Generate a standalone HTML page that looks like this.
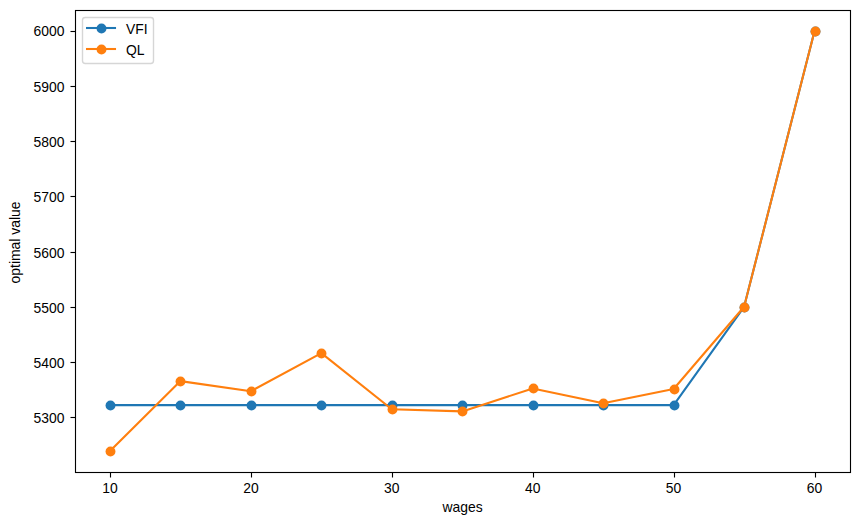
<!DOCTYPE html>
<html><head><meta charset="utf-8"><title>VFI vs QL optimal value by wages</title>
<style>
html,body{margin:0;padding:0;background:#fff;}
svg{display:block;}
</style></head><body>
<svg width="859" height="525" viewBox="0 0 859 525">
<rect x="0" y="0" width="859" height="525" fill="#fff"/>
<g>
<polyline points="110.01,405.10 180.46,405.10 250.92,405.10 321.37,405.10 391.83,405.10 462.28,405.10 532.73,405.10 603.19,405.10 673.64,405.10 744.10,306.77 814.55,31.00" fill="none" stroke="#1f77b4" stroke-width="2.083" stroke-linejoin="round" stroke-linecap="square"/>
<circle cx="110.5" cy="405.5" r="4.940" fill="#1f77b4"/>
<circle cx="180.5" cy="405.5" r="4.940" fill="#1f77b4"/>
<circle cx="251.5" cy="405.5" r="4.940" fill="#1f77b4"/>
<circle cx="321.5" cy="405.5" r="4.940" fill="#1f77b4"/>
<circle cx="392.5" cy="405.5" r="4.940" fill="#1f77b4"/>
<circle cx="462.5" cy="405.5" r="4.940" fill="#1f77b4"/>
<circle cx="533.5" cy="405.5" r="4.940" fill="#1f77b4"/>
<circle cx="603.5" cy="405.5" r="4.940" fill="#1f77b4"/>
<circle cx="674.5" cy="405.5" r="4.940" fill="#1f77b4"/>
<circle cx="744.5" cy="307.5" r="4.940" fill="#1f77b4"/>
<circle cx="815.5" cy="31.5" r="4.940" fill="#1f77b4"/>
</g>
<g>
<polyline points="110.01,451.00 180.46,381.10 250.92,391.20 321.37,353.10 391.83,409.25 462.28,411.40 532.73,388.40 603.19,403.30 673.64,389.00 744.10,306.77 814.55,31.00" fill="none" stroke="#ff7f0e" stroke-width="2.083" stroke-linejoin="round" stroke-linecap="square"/>
<circle cx="110.5" cy="451.5" r="4.940" fill="#ff7f0e"/>
<circle cx="180.5" cy="381.5" r="4.940" fill="#ff7f0e"/>
<circle cx="251.5" cy="391.5" r="4.940" fill="#ff7f0e"/>
<circle cx="321.5" cy="353.5" r="4.940" fill="#ff7f0e"/>
<circle cx="392.5" cy="409.5" r="4.940" fill="#ff7f0e"/>
<circle cx="462.5" cy="411.5" r="4.940" fill="#ff7f0e"/>
<circle cx="533.5" cy="388.5" r="4.940" fill="#ff7f0e"/>
<circle cx="603.5" cy="403.5" r="4.940" fill="#ff7f0e"/>
<circle cx="674.5" cy="389.5" r="4.940" fill="#ff7f0e"/>
<circle cx="744.5" cy="307.5" r="4.940" fill="#ff7f0e"/>
<circle cx="815.5" cy="31.5" r="4.940" fill="#ff7f0e"/>
</g>
<rect x="109.944" y="473.0" width="1.111" height="4.5" fill="#000"/>
<rect x="250.944" y="473.0" width="1.111" height="4.5" fill="#000"/>
<rect x="391.944" y="473.0" width="1.111" height="4.5" fill="#000"/>
<rect x="532.944" y="473.0" width="1.111" height="4.5" fill="#000"/>
<rect x="673.944" y="473.0" width="1.111" height="4.5" fill="#000"/>
<rect x="814.944" y="473.0" width="1.111" height="4.5" fill="#000"/>
<rect x="70.50" y="416.944" width="4.5" height="1.111" fill="#000"/>
<rect x="70.50" y="361.944" width="4.5" height="1.111" fill="#000"/>
<rect x="70.50" y="306.944" width="4.5" height="1.111" fill="#000"/>
<rect x="70.50" y="251.944" width="4.5" height="1.111" fill="#000"/>
<rect x="70.50" y="195.944" width="4.5" height="1.111" fill="#000"/>
<rect x="70.50" y="140.944" width="4.5" height="1.111" fill="#000"/>
<rect x="70.50" y="85.944" width="4.5" height="1.111" fill="#000"/>
<rect x="70.50" y="30.944" width="4.5" height="1.111" fill="#000"/>
<rect x="75.5" y="10.5" width="775.0" height="462.0" fill="none" stroke="#000" stroke-width="1.111" stroke-linejoin="miter"/>
<rect x="82.5" y="17.5" width="71" height="46" rx="2.8" ry="2.8" fill="#fff" fill-opacity="0.8" stroke="#cccccc" stroke-opacity="0.8" stroke-width="1.389"/>
<line x1="87.04" y1="28.0" x2="115.0" y2="28.0" stroke="#1f77b4" stroke-width="2.083" stroke-linecap="square"/>
<circle cx="101.5" cy="28.5" r="4.940" fill="#1f77b4"/>
<line x1="87.04" y1="49.0" x2="115.0" y2="49.0" stroke="#ff7f0e" stroke-width="2.083" stroke-linecap="square"/>
<circle cx="101.5" cy="49.5" r="4.940" fill="#ff7f0e"/>
<g font-family="'Liberation Sans', 'DejaVu Sans', sans-serif" font-size="13.9" fill="#000">
<text x="64.5" y="423" text-anchor="end">5300</text>
<text x="64.5" y="368" text-anchor="end">5400</text>
<text x="64.5" y="313" text-anchor="end">5500</text>
<text x="64.5" y="258" text-anchor="end">5600</text>
<text x="64.5" y="202" text-anchor="end">5700</text>
<text x="64.5" y="147" text-anchor="end">5800</text>
<text x="64.5" y="92" text-anchor="end">5900</text>
<text x="64.5" y="36" text-anchor="end">6000</text>
<text x="110.0" y="493" text-anchor="middle">10</text>
<text x="250.9" y="493" text-anchor="middle">20</text>
<text x="391.8" y="493" text-anchor="middle">30</text>
<text x="532.7" y="493" text-anchor="middle">40</text>
<text x="673.6" y="493" text-anchor="middle">50</text>
<text x="814.6" y="493" text-anchor="middle">60</text>
<text x="462.5" y="512" text-anchor="middle">wages</text>
<text transform="translate(20,242.5) rotate(-90)" text-anchor="middle">optimal value</text>
<text x="126" y="34">VFI</text>
<text x="126" y="55">QL</text>
</g>
</svg></body></html>
